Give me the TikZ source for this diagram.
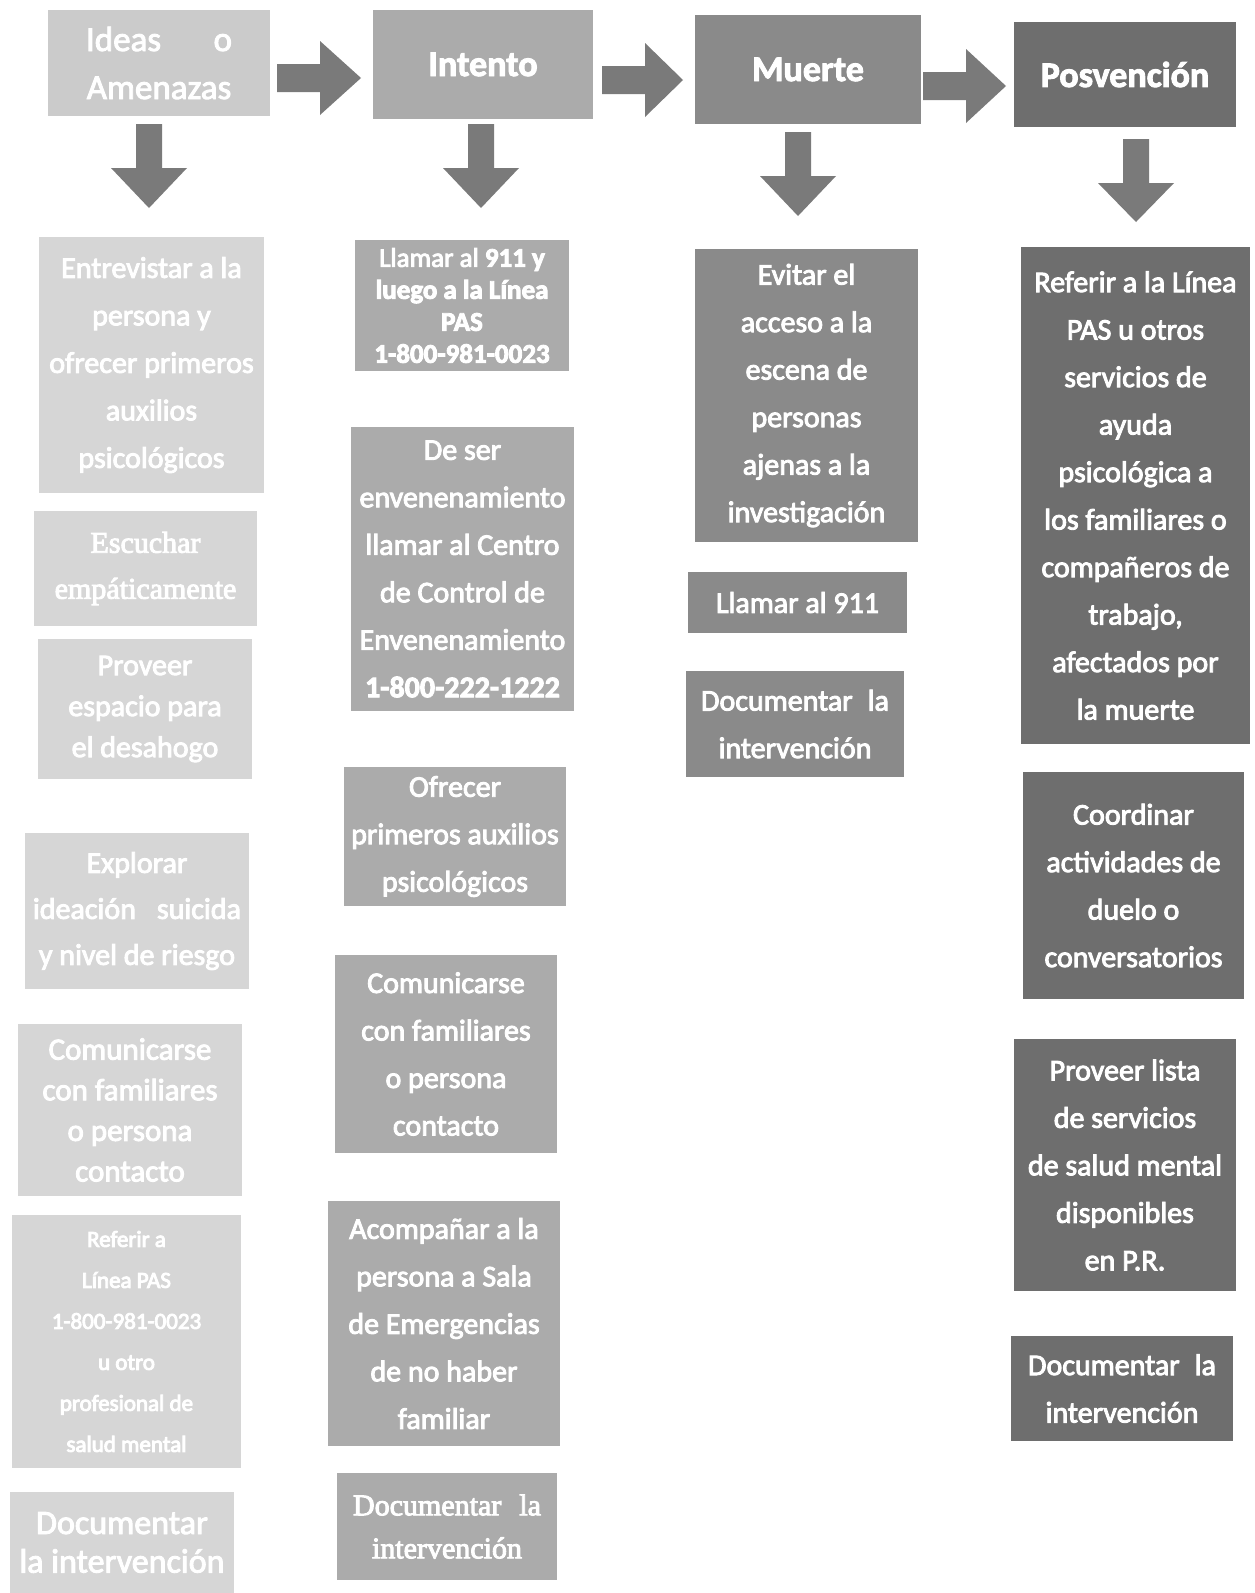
\documentclass[tikz,border=0pt]{standalone}
\usepackage{fontspec}
\setmainfont{Carlito}
\newfontfamily\serifface{Liberation Serif}
\definecolor{colA}{HTML}{D6D6D6}
\definecolor{colB}{HTML}{ABABAB}
\definecolor{colC}{HTML}{8A8A8A}
\definecolor{colD}{HTML}{6E6E6E}
\definecolor{arrc}{HTML}{7A7A7A}
\newcommand\outlinetext{\special{pdf:literal direct 2 Tr 0.9 w 0.45 G}}
\newcommand\darrow[3]{\fill[arrc] ({#1-13},#2) -- ({#1+13},#2) -- ({#1+13},{#2+44}) -- ({#1+38},{#2+44}) -- (#1,#3) -- ({#1-38},{#2+44}) -- ({#1-13},{#2+44}) -- cycle;}
\newcommand\rarrow[3]{\fill[arrc] (#1,{#3-14}) -- ({#1+43},{#3-14}) -- ({#1+43},{#3-37}) -- (#2,#3) -- ({#1+43},{#3+37}) -- ({#1+43},{#3+14}) -- (#1,{#3+14}) -- cycle;}
\begin{document}
\begin{tikzpicture}[x=1pt,y=-1pt,
  box/.style={inner sep=0pt, align=center, text=white, draw=none, execute at begin node=\outlinetext},
  bodyA/.style={font=\fontsize{30}{47.5}\selectfont},
  headA/.style={font=\fontsize{36}{48}\selectfont\bfseries},
  serA/.style={font=\fontsize{30}{43}\selectfont\serifface},
  cA/.style={box, fill=colA},
  cB/.style={box, fill=colB},
  cC/.style={box, fill=colC},
  cD/.style={box, fill=colD}]
\useasboundingbox (0,0) rectangle (1254,1593);
\fill[white] (0,0) rectangle (1254,1593);

% headers
\node[cA, fill=colA!95!black, minimum width=222, minimum height=106, font=\fontsize{35}{48}\selectfont] (h1) at (159,63) {Ideas\hspace{1.5em}o\\Amenazas};
\node[cB, headA, minimum width=220, minimum height=109] (h2) at (483,64.5) {Intento};
\node[cC, headA, minimum width=226, minimum height=109] (h3) at (808,69.5) {Muerte};
\node[cD, headA, minimum width=222, minimum height=105] (h4) at (1125,74.5) {Posvención};

% right arrows
\rarrow{277}{361}{78}
\rarrow{602}{683}{80}
\rarrow{923}{1006}{86}

% down arrows
\darrow{149}{124}{208}
\darrow{481}{124}{208}
\darrow{798}{132}{216}
\darrow{1136}{139}{222}

% column 1
\node[cA, bodyA, minimum width=225, minimum height=256] (a1) at (151.5,365) {Entrevistar a la\\persona y\\ofrecer primeros\\auxilios\\psicológicos};
\node[cA, font=\fontsize{30}{46}\selectfont\serifface, minimum width=223, minimum height=115] (a2) at (145.5,568.5) {Escuchar\\empáticamente};
\node[cA, font=\fontsize{30}{41}\selectfont, minimum width=214, minimum height=140] (a3) at (145,709) {Proveer\\espacio para\\el desahogo};
\node[cA, font=\fontsize{30}{46}\selectfont, minimum width=224, minimum height=156] (a4) at (137,911) {Explorar\\ideación\hspace{0.7em}suicida\\y nivel de riesgo};
\node[cA, font=\fontsize{31}{40.6}\selectfont, minimum width=224, minimum height=172] (a5) at (130,1110) {Comunicarse\\con familiares\\o persona\\contacto};
\node[cA, font=\fontsize{23}{41}\selectfont, minimum width=229, minimum height=253] (a6) at (126.5,1341.5) {Referir a\\Línea PAS\\1-800-981-0023\\u otro\\profesional de\\salud mental};
\node[cA, font=\fontsize{34}{38.6}\selectfont, minimum width=224, minimum height=101] (a7) at (122,1542.5) {Documentar\\la intervención};

% column 2
\node[cB, font=\fontsize{27}{32}\selectfont, minimum width=214, minimum height=131] (b1) at (462,305.5) {Llamar al \textbf{911 y}\\\textbf{luego a la Línea}\\\textbf{PAS}\\\textbf{1-800-981-0023}};
\node[cB, bodyA, minimum width=223, minimum height=284] (b2) at (462.5,569) {De ser\\envenenamiento\\llamar al Centro\\de Control de\\Envenenamiento\\\textbf{1-800-222-1222}};
\node[cB, bodyA, minimum width=222, minimum height=139] (b3) at (455,836.5) {Ofrecer\\primeros auxilios\\psicológicos};
\node[cB, bodyA, minimum width=222, minimum height=198] (b4) at (446,1054) {Comunicarse\\con familiares\\o persona\\contacto};
\node[cB, bodyA, minimum width=232, minimum height=245] (b5) at (444,1323.5) {Acompañar a la\\persona a Sala\\de Emergencias\\de no haber\\familiar};
\node[cB, serA, minimum width=220, minimum height=107] (b6) at (447,1526.5) {Documentar\hspace{0.6em}la\\intervención};

% column 3
\node[cC, bodyA, minimum width=223, minimum height=293] (c1) at (806.5,395.5) {Evitar el\\acceso a la\\escena de\\personas\\ajenas a la\\investigación};
\node[cC, bodyA, minimum width=219, minimum height=61] (c2) at (797.5,602.5) {Llamar al 911};
\node[cC, bodyA, minimum width=218, minimum height=106] (c3) at (795,724) {Documentar\hspace{0.5em}la\\intervención};

% column 4
\node[cD, bodyA, minimum width=229, minimum height=497] (d1) at (1135.5,495.5) {Referir a la Línea\\PAS u otros\\servicios de\\ayuda\\psicológica a\\los familiares o\\compañeros de\\trabajo,\\afectados por\\la muerte};
\node[cD, bodyA, minimum width=221, minimum height=227] (d2) at (1133.5,885.5) {Coordinar\\actividades de\\duelo o\\conversatorios};
\node[cD, bodyA, minimum width=222, minimum height=252] (d3) at (1125,1165) {Proveer lista\\de servicios\\de salud mental\\disponibles\\en P.R.};
\node[cD, bodyA, minimum width=222, minimum height=105] (d4) at (1122,1388.5) {Documentar\hspace{0.5em}la\\intervención};
\end{tikzpicture}
\end{document}
